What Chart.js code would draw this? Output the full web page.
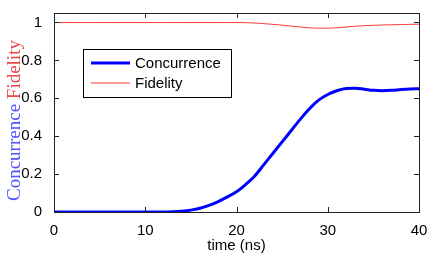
<!DOCTYPE html>
<html>
<head>
<meta charset="utf-8">
<script src="https://cdn.jsdelivr.net/npm/chart.js@4"></script>
<style>
  html, body { margin: 0; padding: 0; background: #fff; }
  canvas { display: block; }
</style>
</head>
<body>
<canvas id="chart" width="436" height="260"></canvas>
<script>
// data (time in ns)
const times = [0,1,2,3,4,5,6,7,8,9,10,11,12,13,14,15,16,17,18,19,20,21,22,23,24,25,26,27,28,29,30,31,32,33,34,35,36,37,38,39,40];
const concurrence = [0,0,0,0,0,0,0,0,0,0,0,0,0,0.001,0.004,0.01,0.02,0.035,0.055,0.08,0.107,0.145,0.19,0.25,0.31,0.37,0.43,0.49,0.545,0.59,0.62,0.64,0.652,0.653,0.648,0.642,0.64,0.642,0.646,0.649,0.65];
const fidelity = [1,1,1,1,1,1,1,1,1,1,1,1,1,1,1,1,1,1,1,1,1,0.999,0.997,0.994,0.99,0.986,0.981,0.976,0.972,0.97,0.97,0.972,0.976,0.98,0.983,0.985,0.987,0.988,0.989,0.99,0.991];
const xTicks = [0,10,20,30,40];
const yTicks = [0,0.2,0.4,0.6,0.8,1];

const FONT = 'Liberation Sans, Arial, sans-serif';

// box around the axes, inward ticks, legend and two-colour y title
const decor = {
  id: 'decor',
  afterDraw(chart) {
    const ctx = chart.ctx;
    const a = chart.chartArea;
    const xs = chart.scales.x, ys = chart.scales.y;
    ctx.save();
    ctx.strokeStyle = '#222';
    ctx.lineWidth = 1;
    ctx.strokeRect(Math.round(a.left) + 0.5, Math.round(a.top) + 0.5,
                   Math.round(a.right - a.left), Math.round(a.bottom - a.top));
    ctx.beginPath();
    xTicks.forEach(v => {
      const px = Math.round(xs.getPixelForValue(v)) + 0.5;
      ctx.moveTo(px, a.bottom); ctx.lineTo(px, a.bottom - 5);
      ctx.moveTo(px, a.top); ctx.lineTo(px, a.top + 5);
    });
    yTicks.forEach(v => {
      const py = Math.round(ys.getPixelForValue(v)) + 0.5;
      ctx.moveTo(a.left, py); ctx.lineTo(a.left + 5, py);
      ctx.moveTo(a.right, py); ctx.lineTo(a.right - 5, py);
    });
    ctx.stroke();

    // legend
    ctx.fillStyle = '#fff';
    ctx.fillRect(83, 49, 149, 49);
    ctx.strokeStyle = '#000';
    ctx.strokeRect(83.5, 49.5, 148, 48);
    ctx.font = '15px ' + FONT;
    ctx.textBaseline = 'middle';
    const rows = [63, 83];
    chart.data.datasets.forEach((ds, i) => {
      ctx.strokeStyle = ds.borderColor;
      ctx.lineWidth = ds.borderWidth;
      ctx.beginPath();
      ctx.moveTo(91, rows[i]); ctx.lineTo(130, rows[i]);
      ctx.stroke();
      ctx.fillStyle = '#000';
      ctx.fillText(ds.label, 135, rows[i] + 1);
    });

    // y title
    ctx.translate(15, 201);
    ctx.rotate(-Math.PI / 2);
    ctx.font = '19px "Liberation Serif", serif';
    ctx.textBaseline = 'middle';
    ctx.textAlign = 'left';
    ctx.fillStyle = '#5050ff';
    ctx.fillText('Concurrence', 0, 0);
    const w = ctx.measureText('Concurrence ').width;
    ctx.fillStyle = '#e84848';
    ctx.fillText('Fidelity', w, 0);
    ctx.restore();
  }
};

new Chart(document.getElementById('chart'), {
  type: 'line',
  data: {
    labels: times,
    datasets: [{
      label: 'Concurrence',
      data: times.map((t, i) => ({ x: t, y: concurrence[i] })),
      borderColor: '#0000ff',
      borderWidth: 3,
      pointRadius: 0,
      cubicInterpolationMode: 'monotone'
    }, {
      label: 'Fidelity',
      data: times.map((t, i) => ({ x: t, y: fidelity[i] })),
      borderColor: '#ff3b3b',
      borderWidth: 1,
      pointRadius: 0,
      cubicInterpolationMode: 'monotone'
    }]
  },
  options: {
    responsive: false,
    animation: false,
    devicePixelRatio: 1,
    layout: { padding: { top: 10, right: 17, left: 0, bottom: 5 } },
    plugins: {
      legend: { display: false },
      tooltip: { enabled: false }
    },
    scales: {
      x: {
        type: 'linear',
        min: 0,
        max: 40,
        afterBuildTicks: s => { s.ticks = xTicks.map(v => ({ value: v })); },
        afterFit: s => { s.height = 43; },
        grid: { display: false },
        border: { display: false },
        ticks: { color: '#000', font: { family: FONT, size: 15 }, padding: 2, maxRotation: 0, callback: v => String(v) },
        title: { display: true, text: 'time (ns)', color: '#000', font: { family: FONT, size: 15 }, padding: 0 }
      },
      y: {
        min: 0,
        max: 1.05,
        afterBuildTicks: s => { s.ticks = yTicks.map(v => ({ value: v })); },
        afterFit: s => { s.width = 54; },
        grid: { display: false },
        border: { display: false },
        ticks: { color: '#000', font: { family: FONT, size: 15 }, padding: 4, callback: v => String(v) }
      }
    }
  },
  plugins: [decor]
});
</script>
</body>
</html>
